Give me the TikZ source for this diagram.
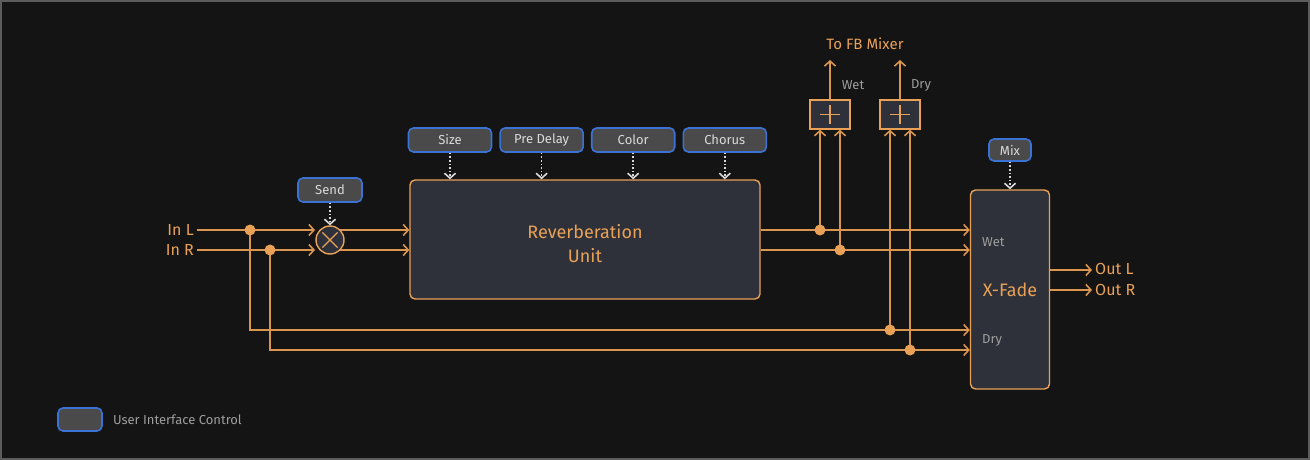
\documentclass[tikz,border=0pt]{standalone}
\usepackage{fontspec}
\setmainfont{Fira Sans}
\usepackage{tikz}
\usetikzlibrary{positioning,arrows.meta,calc}
\usepackage{xcolor}
\definecolor{bgdark}{HTML}{141414}
\definecolor{frame}{HTML}{5C5C5C}
\definecolor{amber}{HTML}{E8A157}
\definecolor{wire}{HTML}{DA954F}
\definecolor{slate}{HTML}{2F313A}
\definecolor{uigray}{HTML}{4A4A4A}
\definecolor{uiblue}{HTML}{3B73D4}
\definecolor{softgray}{HTML}{9E9E9E}
\definecolor{lightgray}{HTML}{DADADA}

\begin{document}
\begin{tikzpicture}[x=1pt, y=-1pt,
    uiBox/.style={rectangle, rounded corners=5pt, draw=uiblue, fill=uigray, line width=1.6pt, text=lightgray, font=\fontsize{13}{15}\selectfont, minimum height=24pt, inner sep=0pt},
    unitBox/.style={rectangle, rounded corners=5pt, draw=amber, fill=slate, line width=1.4pt, text=amber, font=\fontsize{18}{24}\selectfont, align=center, inner sep=0pt},
    sumBox/.style={rectangle, draw=amber, fill=slate, line width=1.4pt, minimum width=40pt, minimum height=29pt, inner sep=0pt},
    sigLabel/.style={text=amber, font=\fontsize{16}{18}\selectfont, inner sep=3pt},
    portLabel/.style={text=softgray, font=\fontsize{13}{15}\selectfont, inner sep=0pt},
    junction/.style={circle, fill=amber, minimum size=11pt, inner sep=0pt},
    sigArrow/.style={draw=wire, line width=1.6pt, -{Straight Barb[length=5pt,width=11pt]}},
    ctrlArrow/.style={draw=lightgray, line width=1.6pt, dotted, -{Straight Barb[length=5pt,width=11pt]}}
]
    \fill[bgdark] (0,0) rectangle (1310,460);
    \draw[frame, line width=2pt] (1,1) rectangle (1309,459);
    \useasboundingbox (0,0) rectangle (1310,460);

    \node[unitBox, minimum width=350pt, minimum height=119pt] (rev) at (585,239.5) {\raisebox{-6pt}[\height][\depth]{\begin{tabular}{@{}c@{}}Reverberation\\Unit\end{tabular}}};
    \node[unitBox, minimum width=79pt, minimum height=199pt] (xf) at (1010,289.5) {X-Fade};
    \node[portLabel, anchor=west] (xfWet) at (982,242) {Wet};
    \node[portLabel, anchor=west] (xfDry) at (982,340) {Dry};

    \node[uiBox, minimum width=83pt] (size) at (450,140) {Size};
    \node[uiBox, minimum width=83pt, right=7pt of size] (predelay) {Pre Delay};
    \node[uiBox, minimum width=83pt, right=7pt of predelay] (color) {Color};
    \node[uiBox, minimum width=83pt, right=7pt of color] (chorus) {Chorus};
    \node[uiBox, minimum width=64pt] (send) at (330,190) {Send};
    \node[uiBox, minimum width=42pt, minimum height=22pt] (mix) at (1010,150) {Mix};

    \node[circle, draw=amber, fill=slate, line width=1.4pt, minimum size=28pt, inner sep=0pt] (mul) at (330,240) {};
    \draw[amber, line width=1.4pt, shorten <=4pt, shorten >=4pt] (mul.north west) -- (mul.south east);
    \draw[amber, line width=1.4pt, shorten <=4pt, shorten >=4pt] (mul.north east) -- (mul.south west);

    \node[sumBox] (sumWet) at (830,114.5) {};
    \node[sumBox] (sumDry) at (900,114.5) {};
    \draw[amber, line width=1.4pt, shorten <=11pt, shorten >=11pt] (sumWet.west) -- (sumWet.east);
    \draw[amber, line width=1.4pt, shorten <=5.5pt, shorten >=5.5pt] (sumWet.north) -- (sumWet.south);
    \draw[amber, line width=1.4pt, shorten <=11pt, shorten >=11pt] (sumDry.west) -- (sumDry.east);
    \draw[amber, line width=1.4pt, shorten <=5.5pt, shorten >=5.5pt] (sumDry.north) -- (sumDry.south);

    \node[sigLabel, anchor=east] (inL) at (197,230) {In L};
    \node[sigLabel, anchor=east] (inR) at (197,250) {In R};
    \node[sigLabel, anchor=west] (outL) at (1092,269) {Out L};
    \node[sigLabel, anchor=west] (outR) at (1092,290) {Out R};
    \node[sigLabel, font=\fontsize{15}{17}\selectfont] (fbLabel) at (865,44) {To FB Mixer};
    \node[portLabel] (wetLabel) at (853,85) {Wet};
    \node[portLabel] (dryLabel) at (921,85) {Dry};

    \coordinate (jInL) at (250,230);
    \coordinate (jInR) at (270,250);
    \coordinate (jWetL) at (820,230);
    \coordinate (jWetR) at (840,250);
    \coordinate (jDryL) at (890,330);
    \coordinate (jDryR) at (910,350);
    \coordinate (mulInL) at (315,230);
    \coordinate (mulInR) at (315,250);
    \coordinate (fbWet) at (830,60);
    \coordinate (fbDry) at (900,60);

    \draw[sigArrow] (inL.east) -- (mulInL);
    \draw[sigArrow] (inR.east) -- (mulInR);
    \draw[sigArrow] (mul.45 |- jInL) -- (rev.west |- jInL);
    \draw[sigArrow] (mul.-45 |- jInR) -- (rev.west |- jInR);
    \draw[sigArrow] (rev.east |- jInL) -- (xf.west |- jInL);
    \draw[sigArrow] (rev.east |- jInR) -- (xf.west |- jInR);
    \draw[sigArrow] (jInL) |- (xf.west |- jDryL);
    \draw[sigArrow] (jInR) |- (xf.west |- jDryR);
    \draw[sigArrow] (jWetL) -- (jWetL |- sumWet.south);
    \draw[sigArrow] (jWetR) -- (jWetR |- sumWet.south);
    \draw[sigArrow] (jDryL) -- (jDryL |- sumDry.south);
    \draw[sigArrow] (jDryR) -- (jDryR |- sumDry.south);
    \draw[sigArrow] (sumWet) -- (fbWet);
    \draw[sigArrow] (sumDry) -- (fbDry);
    \draw[sigArrow] (xf.east |- 0,270) -- (outL.west |- 0,270);
    \draw[sigArrow] (xf.east |- 0,290) -- (outR.west |- 0,290);

    \node[junction] (dotInL) at (jInL) {};
    \node[junction] (dotInR) at (jInR) {};
    \node[junction] (dotWetL) at (jWetL) {};
    \node[junction] (dotWetR) at (jWetR) {};
    \node[junction] (dotDryL) at (jDryL) {};
    \node[junction] (dotDryR) at (jDryR) {};

    \draw[ctrlArrow] (size) -- (size |- rev.north);
    \draw[ctrlArrow] (predelay) -- (predelay |- rev.north);
    \draw[ctrlArrow] (color) -- (color |- rev.north);
    \draw[ctrlArrow] (chorus) -- (chorus |- rev.north);
    \draw[ctrlArrow] (send) -- (mul);
    \draw[ctrlArrow] (mix) -- (xf);

    \node[uiBox, minimum width=44pt, minimum height=23pt] (legendBox) at (80,419.5) {};
    \node[portLabel, right=10pt of legendBox] (legendText) {User Interface Control};
\end{tikzpicture}
\end{document}
